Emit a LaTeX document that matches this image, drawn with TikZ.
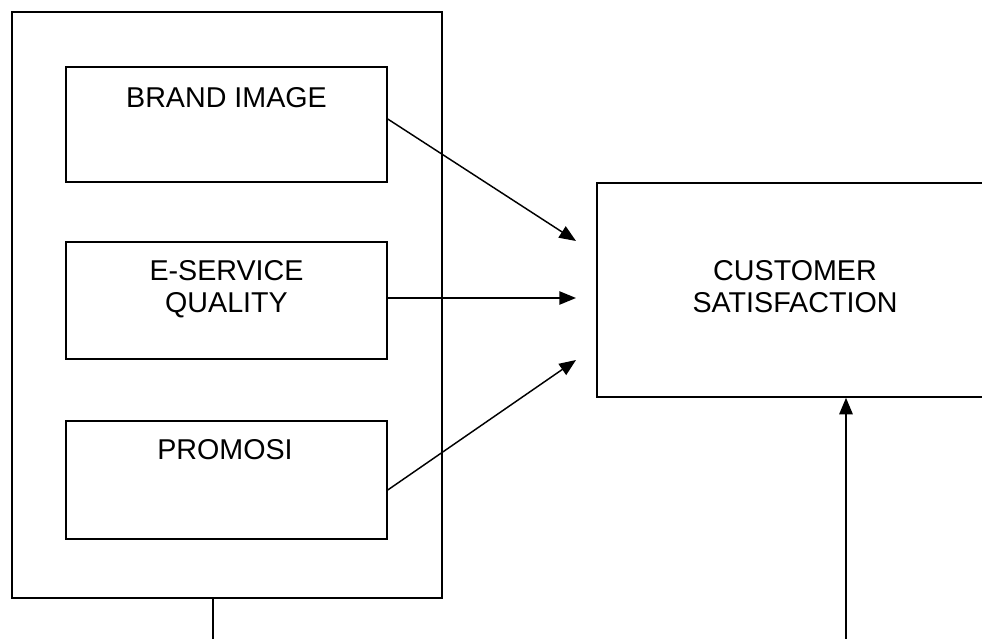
\documentclass[tikz,border=0pt]{standalone}
\usepackage{fontspec}
\setmainfont{Liberation Sans}
\usetikzlibrary{arrows.meta}
\begin{document}
\begin{tikzpicture}[x=0.75pt, y=-0.75pt,
    box/.style={draw, line width=1.1pt, inner sep=0pt},
    lbl/.style={font=\fontsize{21.5}{24}\selectfont, align=center, inner sep=0pt, text height=15.3pt, text depth=0pt},
    link/.style={line width=1.1pt, -{Triangle[length=12.5pt, width=10pt]}}]
        \useasboundingbox (0,0) rectangle (982,639);
        \clip (0,0) rectangle (982,639);

        % left frame with the three factors
        \node[box, line width=1.6pt, minimum width=322.5pt, minimum height=439.5pt] (frame) at (227,305) {};
        \node[box, minimum width=240.75pt, minimum height=86.25pt] (brand) at (226.5,124.5) {};
        \node[box, minimum width=240.75pt, minimum height=87.75pt] (eserv) at (226.5,300.5) {};
        \node[box, minimum width=240.75pt, minimum height=88.5pt] (promo) at (226.5,480) {};
        \node[lbl] (brandtxt) at (226.5,97) {BRAND IMAGE};
        \node[lbl] (eservtxt) at (226.5,302) {E-SERVICE\\QUALITY};
        \node[lbl] (promotxt) at (225,449) {PROMOSI};

        % outcome
        \node[box, minimum width=309.75pt, minimum height=160.5pt] (cs) at (803.5,290) {};
        \node[lbl] (cstxt) at (795,302) {CUSTOMER\\SATISFACTION};

        % arrows
        \coordinate (in1) at (576,241);
        \coordinate (in2) at (576,298);
        \coordinate (in3) at (576,360);
        \draw[link] (brand.east |- 0,119) -- (in1);
        \draw[link] (eserv.east |- in2) -- (in2);
        \draw[link] (promo.east |- 0,490) -- (in3);

        % loose ends at the bottom
        \coordinate (low1) at (213,645);
        \coordinate (low2) at (846,645);
        \draw[line width=1.6pt] (frame.south -| low1) -- (low1);
        \draw[link, line width=1.6pt] (low2) -- (cs.south -| low2);
\end{tikzpicture}
\end{document}
